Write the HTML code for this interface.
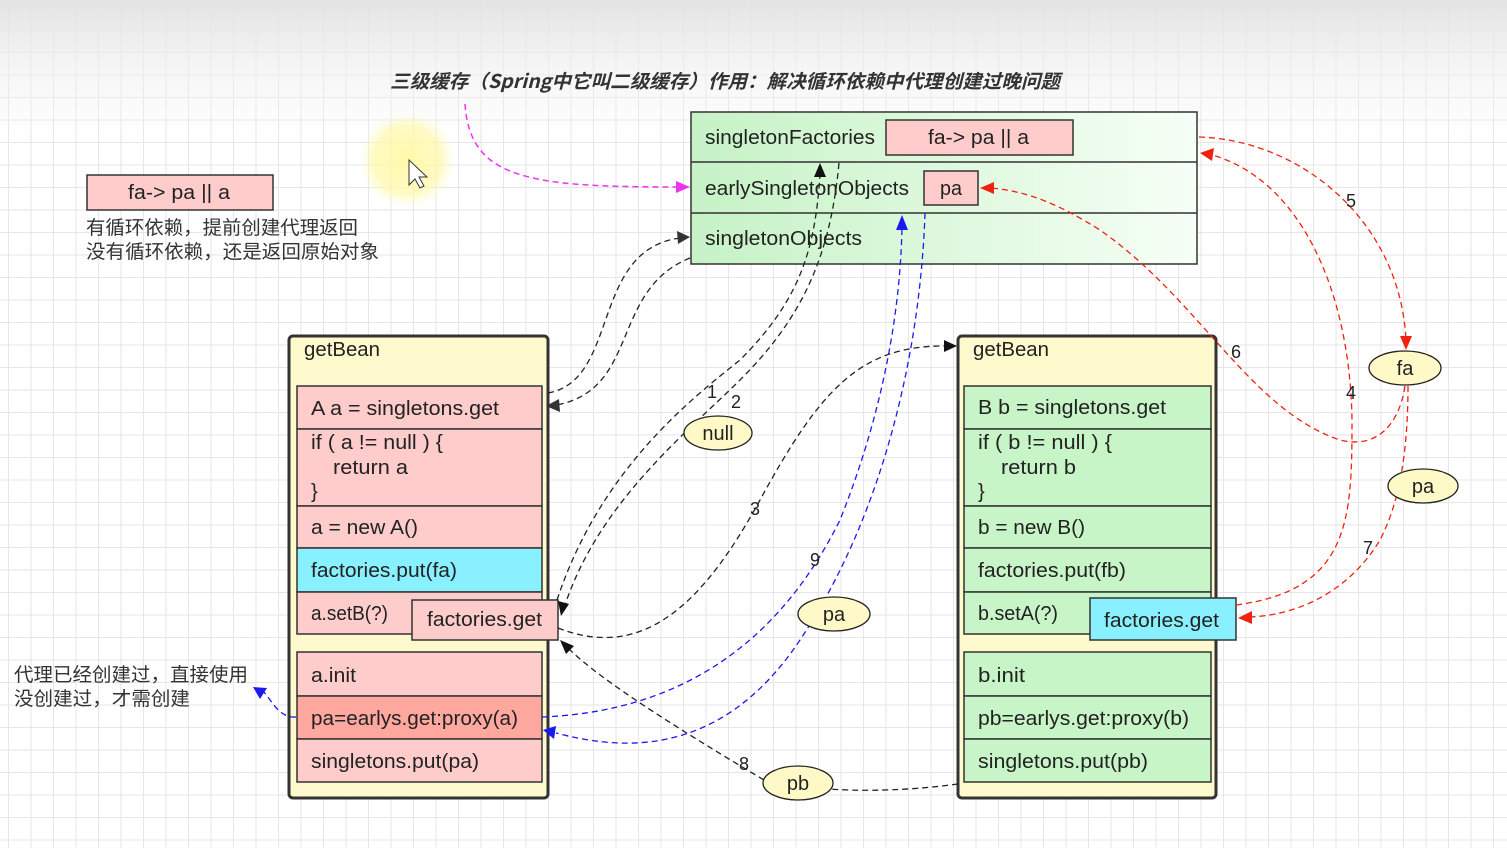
<!DOCTYPE html>
<html><head><meta charset="utf-8"><style>
html,body{margin:0;padding:0;}
body{width:1507px;height:848px;overflow:hidden;background-color:#fff;
background-image:linear-gradient(to bottom,rgba(225,225,225,0.9) 0px,rgba(240,240,240,0.6) 70px,rgba(255,255,255,0) 140px),
linear-gradient(to right,#e6e6e6 1px,transparent 1px),linear-gradient(to bottom,#e6e6e6 1px,transparent 1px);
background-size:100% 100%,22.5px 22.5px,22.5px 22.5px;background-position:0 0,8px 0,0 7px;}
svg{position:absolute;left:0;top:0;}
text{font-family:"Liberation Sans","Noto Sans CJK SC",sans-serif;font-size:20px;fill:#222;}
.cn{font-family:"Noto Sans CJK SC","WenQuanYi Zen Hei",sans-serif;font-size:19px;fill:#333;}
.bx{stroke:#333;stroke-width:1.5;}
.k{fill:none;stroke:#222;stroke-width:1.3;stroke-dasharray:6,4;}
.b{fill:none;stroke:#1a1aee;stroke-width:1.3;stroke-dasharray:6,4;}
.r{fill:none;stroke:#ee2211;stroke-width:1.3;stroke-dasharray:6,4;}
.m{fill:none;stroke:#ee33ee;stroke-width:1.5;stroke-dasharray:6,4;}
.n{font-size:18px;}
</style></head><body>
<svg width="1507" height="848" viewBox="0 0 1507 848">
<defs>
<linearGradient id="g1" x1="0" x2="1" y1="0" y2="0"><stop offset="0" stop-color="#c6f2c6"/><stop offset="1" stop-color="#f6fff6"/></linearGradient>
<radialGradient id="hl"><stop offset="0" stop-color="#fff8a0" stop-opacity="0.9"/><stop offset="0.7" stop-color="#fff8a8" stop-opacity="0.7"/><stop offset="1" stop-color="#fffbc0" stop-opacity="0"/></radialGradient>
</defs>
<text x="390" y="88" textLength="670" lengthAdjust="spacingAndGlyphs" style="font-style:italic;font-weight:bold;font-size:19px;fill:#333;font-family:'Noto Sans CJK SC',sans-serif">三级缓存（Spring中它叫二级缓存）作用：解决循环依赖中代理创建过晚问题</text>
<ellipse cx="407" cy="160" rx="48" ry="48" fill="url(#hl)"/>
<path d="M409 160 L409 185 L415 179 L420 188 L424 186 L419 177 L427 177 Z" fill="#fff" stroke="#333" stroke-width="1"/>

<rect x="87" y="175" width="186" height="35" fill="#ffcccc" class="bx"/>
<text x="128" y="199" textLength="102" lengthAdjust="spacingAndGlyphs">fa-&gt; pa || a</text>
<text x="86" y="234" class="cn" textLength="272" lengthAdjust="spacingAndGlyphs">有循环依赖，提前创建代理返回</text>
<text x="86" y="258" class="cn" textLength="293" lengthAdjust="spacingAndGlyphs">没有循环依赖，还是返回原始对象</text>
<text x="14" y="681" class="cn" textLength="234" lengthAdjust="spacingAndGlyphs">代理已经创建过，直接使用</text>
<text x="14" y="705" class="cn" textLength="176" lengthAdjust="spacingAndGlyphs">没创建过，才需创建</text>

<rect x="691" y="112" width="506" height="152" fill="url(#g1)" class="bx"/>
<line x1="691" y1="162" x2="1197" y2="162" class="bx"/>
<line x1="691" y1="213" x2="1197" y2="213" class="bx"/>
<text x="705" y="144" textLength="170" lengthAdjust="spacingAndGlyphs">singletonFactories</text>
<text x="705" y="195" textLength="204" lengthAdjust="spacingAndGlyphs">earlySingletonObjects</text>
<text x="705" y="245" textLength="157" lengthAdjust="spacingAndGlyphs">singletonObjects</text>
<rect x="886" y="120" width="187" height="35" fill="#ffcccc" class="bx"/>
<text x="928" y="144" textLength="101" lengthAdjust="spacingAndGlyphs">fa-&gt; pa || a</text>
<rect x="924" y="171" width="54" height="34" fill="#ffcccc" class="bx"/>
<text x="940" y="195" textLength="22" lengthAdjust="spacingAndGlyphs">pa</text>

<rect x="289" y="336" width="259" height="462" rx="4" fill="#fffacd" stroke="#333" stroke-width="3"/>
<text x="304" y="356" textLength="76" lengthAdjust="spacingAndGlyphs">getBean</text>
<g class="bx">
<rect x="297" y="386" width="245" height="43" fill="#ffcccc"/>
<rect x="297" y="429" width="245" height="77" fill="#ffcccc"/>
<rect x="297" y="506" width="245" height="42" fill="#ffcccc"/>
<rect x="297" y="548" width="245" height="44" fill="#88f0ff"/>
<rect x="297" y="592" width="245" height="42" fill="#ffcccc"/>
<rect x="412" y="600" width="146" height="40" fill="#ffcccc"/>
<rect x="297" y="652" width="245" height="44" fill="#ffcccc"/>
<rect x="297" y="696" width="245" height="43" fill="#ffa8a0"/>
<rect x="297" y="739" width="245" height="43" fill="#ffcccc"/>
</g>
<text x="311" y="415" textLength="188" lengthAdjust="spacingAndGlyphs">A a = singletons.get</text>
<text x="311" y="449" textLength="132" lengthAdjust="spacingAndGlyphs">if ( a != null ) {</text>
<text x="333" y="474" textLength="75" lengthAdjust="spacingAndGlyphs">return a</text>
<text x="311" y="498">}</text>
<text x="311" y="534" textLength="107" lengthAdjust="spacingAndGlyphs">a = new A()</text>
<text x="311" y="577" textLength="146" lengthAdjust="spacingAndGlyphs">factories.put(fa)</text>
<text x="311" y="620" textLength="77" lengthAdjust="spacingAndGlyphs">a.setB(?)</text>
<text x="427" y="626" textLength="115" lengthAdjust="spacingAndGlyphs">factories.get</text>
<text x="311" y="682" textLength="45" lengthAdjust="spacingAndGlyphs">a.init</text>
<text x="311" y="725" textLength="207" lengthAdjust="spacingAndGlyphs">pa=earlys.get:proxy(a)</text>
<text x="311" y="768" textLength="168" lengthAdjust="spacingAndGlyphs">singletons.put(pa)</text>

<rect x="958" y="336" width="258" height="462" rx="4" fill="#fffacd" stroke="#333" stroke-width="3"/>
<text x="973" y="356" textLength="76" lengthAdjust="spacingAndGlyphs">getBean</text>
<g class="bx">
<rect x="964" y="386" width="247" height="43" fill="#c8f5c8"/>
<rect x="964" y="429" width="247" height="77" fill="#c8f5c8"/>
<rect x="964" y="506" width="247" height="42" fill="#c8f5c8"/>
<rect x="964" y="548" width="247" height="44" fill="#c8f5c8"/>
<rect x="964" y="592" width="247" height="42" fill="#c8f5c8"/>
<rect x="1090" y="598" width="146" height="42" fill="#88f0ff"/>
<rect x="964" y="652" width="247" height="44" fill="#c8f5c8"/>
<rect x="964" y="696" width="247" height="43" fill="#c8f5c8"/>
<rect x="964" y="739" width="247" height="43" fill="#c8f5c8"/>
</g>
<text x="978" y="414" textLength="188" lengthAdjust="spacingAndGlyphs">B b = singletons.get</text>
<text x="978" y="449" textLength="134" lengthAdjust="spacingAndGlyphs">if ( b != null ) {</text>
<text x="1001" y="474" textLength="75" lengthAdjust="spacingAndGlyphs">return b</text>
<text x="978" y="498">}</text>
<text x="978" y="534" textLength="107" lengthAdjust="spacingAndGlyphs">b = new B()</text>
<text x="978" y="577" textLength="148" lengthAdjust="spacingAndGlyphs">factories.put(fb)</text>
<text x="978" y="620" textLength="80" lengthAdjust="spacingAndGlyphs">b.setA(?)</text>
<text x="1104" y="627" textLength="115" lengthAdjust="spacingAndGlyphs">factories.get</text>
<text x="978" y="682" textLength="47" lengthAdjust="spacingAndGlyphs">b.init</text>
<text x="978" y="725" textLength="211" lengthAdjust="spacingAndGlyphs">pb=earlys.get:proxy(b)</text>
<text x="978" y="768" textLength="170" lengthAdjust="spacingAndGlyphs">singletons.put(pb)</text>

<path class="m" d="M465 104 C470 180 530 187 680 187"/>
<polygon points="690,187 676,181 676,193" fill="#ee33ee"/>

<path class="k" d="M548 393 C620 380 590 250 680 238"/>
<polygon points="690,237 677,231 678,244" fill="#333"/>
<path class="k" d="M690 258 C610 290 640 390 556 405"/>
<polygon points="546,406 559,399 560,412" fill="#333"/>

<path class="k" d="M557 600 C600 470 690 400 740 360 C800 300 815 250 820 175"/>
<polygon points="820,163 814,177 826,177" fill="#111"/>
<path class="k" d="M839 163 C830 260 800 320 740 380 C690 430 600 500 565 605"/>
<polygon points="561,616 558,601 569,604" fill="#111"/>
<path class="k" d="M558 628 C640 660 700 610 760 500 C820 390 860 345 946 346"/>
<polygon points="957,346 944,340 944,352" fill="#111"/>
<path class="k" d="M958 784 C900 792 840 792 800 786 M764 780 C680 730 600 680 568 648"/>
<polygon points="560,640 566,654 574,646" fill="#111"/>

<path class="b" d="M542 717 C720 710 800 600 840 520 C880 420 900 320 902 228"/>
<polygon points="902,215 896,230 908,230" fill="#1a1aee"/>
<path class="b" d="M925 213 C920 360 880 520 800 640 C720 760 620 750 556 733"/>
<polygon points="543,730 556,726 554,739" fill="#1a1aee"/>
<path class="b" d="M296 717 C278 718 272 700 262 690"/>
<polygon points="253,687 267,688 260,699" fill="#1a1aee"/>

<path class="r" d="M1199 137 C1300 140 1400 220 1406 340"/>
<polygon points="1406,350 1400,336 1412,336" fill="#ee2211"/>
<path class="r" d="M1236 605 C1350 590 1352 520 1352 420 C1350 290 1300 180 1212 155"/>
<polygon points="1200,153 1214,148 1212,161" fill="#ee2211"/>
<path class="r" d="M1405 386 C1400 420 1380 450 1340 440 C1250 410 1200 300 1100 230 C1060 205 1030 192 992 188"/>
<polygon points="980,188 994,182 994,194" fill="#ee2211"/>
<path class="r" d="M1408 386 C1408 480 1390 520 1380 540 C1350 590 1300 615 1250 617"/>
<polygon points="1238,618 1252,611 1252,624" fill="#ee2211"/>

<g fill="#fff9c8" stroke="#222" stroke-width="1.3">
<ellipse cx="718" cy="433" rx="34" ry="17"/>
<ellipse cx="1405" cy="368" rx="36" ry="17"/>
<ellipse cx="1423" cy="486" rx="35" ry="17"/>
<ellipse cx="834" cy="614" rx="36" ry="17"/>
<ellipse cx="798" cy="783" rx="35" ry="17"/>
</g>
<text x="718" y="440" text-anchor="middle">null</text>
<text x="1405" y="375" text-anchor="middle">fa</text>
<text x="1423" y="493" text-anchor="middle">pa</text>
<text x="834" y="621" text-anchor="middle">pa</text>
<text x="798" y="790" text-anchor="middle">pb</text>

<g class="n">
<text x="707" y="398" class="n">1</text>
<text x="731" y="408" class="n">2</text>
<text x="750" y="515" class="n">3</text>
<text x="1346" y="399" class="n">4</text>
<text x="1346" y="207" class="n">5</text>
<text x="1231" y="358" class="n">6</text>
<text x="1363" y="554" class="n">7</text>
<text x="739" y="770" class="n">8</text>
<text x="810" y="566" class="n">9</text>
</g>
</svg>
</body></html>
